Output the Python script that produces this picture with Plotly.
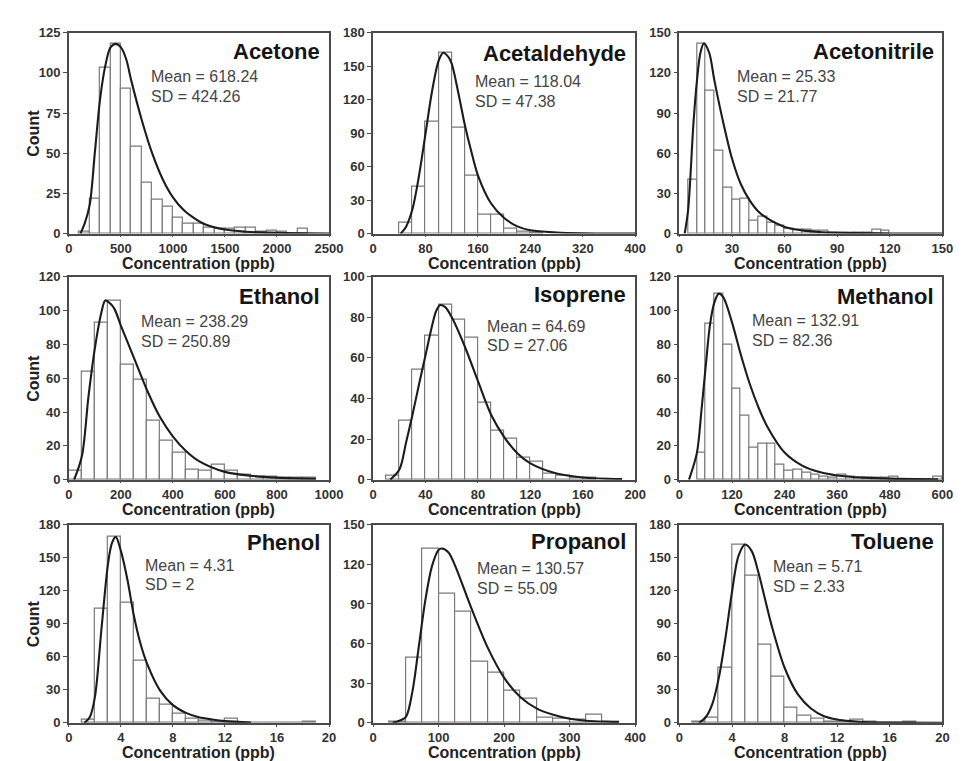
import plotly.graph_objects as go

# ---------------- data ----------------
names = ["Acetone", "Acetaldehyde", "Acetonitrile",
         "Ethanol", "Isoprene", "Methanol",
         "Phenol", "Propanol", "Toluene"]
means = ["618.24", "118.04", "25.33", "238.29", "64.69", "132.91", "4.31", "130.57", "5.71"]
sds = ["424.26", "47.38", "21.77", "250.89", "27.06", "82.36", "2", "55.09", "2.33"]

bin_widths = [100, 20, 5, 50, 10, 20, 1, 25, 1]

acetone_bins = [100, 200, 300, 400, 500, 600, 700, 800, 900, 1000, 1100, 1200, 1300,
                1400, 1500, 1600, 1700, 1800, 1900, 2000, 2100, 2200]
acetone_counts = [1, 22, 103, 118, 90, 54, 32, 21, 17, 10, 6, 6, 4, 3, 3, 4, 4, 1, 2, 1, 0, 3]
acetone_fit_x = [110, 150, 200, 250, 300, 350, 400, 450, 500, 550, 600, 700, 800, 900,
                 1000, 1100, 1200, 1300, 1500, 1700, 2000, 2500]
acetone_fit_y = [0, 6, 18, 51, 84, 104.5, 115.8, 118, 115.8, 108.6, 95, 70.7, 50, 34,
                 22.5, 14.8, 9.8, 6, 2.5, 1.2, 0.5, 0.1]

acetaldehyde_bins = [40, 60, 80, 100, 120, 140, 160, 180, 200, 220, 240]
acetaldehyde_counts = [10, 42, 100, 162, 95, 52, 17, 17, 4, 2, 1]
acetaldehyde_fit_x = [42, 50, 60, 70, 80, 90, 100, 107, 115, 120, 130, 140, 150, 160,
                      180, 200, 220, 240, 280, 320, 400]
acetaldehyde_fit_y = [0, 6, 22, 52, 90, 128, 155, 162, 158, 152, 126, 97, 73, 52,
                      27, 14, 6.5, 3, 1, 0.3, 0]

acetonitrile_bins = [5, 10, 15, 20, 25, 30, 35, 40, 45, 50, 55, 60, 65, 70, 75, 80, 85,
                     90, 95, 100, 105, 110, 115]
acetonitrile_counts = [40, 142, 107, 62, 34, 25, 26, 10, 13, 8, 6, 4, 3, 3, 2, 2, 1,
                       1, 1, 1, 1, 3, 2]
acetonitrile_fit_x = [3, 5, 8, 10, 12, 14, 17, 20, 25, 30, 35, 40, 45, 50, 60, 70, 80,
                      100, 120, 150]
acetonitrile_fit_y = [0, 18, 82, 114, 135, 142, 135, 114, 83, 56, 37, 25, 16.5, 11.5,
                      5, 2.4, 1.2, 0.4, 0.1, 0]

ethanol_bins = [0, 50, 100, 150, 200, 250, 300, 350, 400, 450, 500, 550, 600, 650, 700,
                750, 800, 850, 900]
ethanol_counts = [5, 64, 93, 106, 68, 59, 35, 23, 16, 6, 5, 9, 5, 3, 2, 2, 1, 1, 1]
ethanol_fit_x = [20, 50, 75, 100, 125, 140, 160, 175, 200, 250, 300, 350, 400, 450, 500,
                 600, 700, 800, 950]
ethanol_fit_y = [0, 14, 49, 78, 99, 106, 104, 101, 91, 72, 53, 37, 25.5, 17, 11,
                 4.6, 2.3, 1.2, 0.5]

isoprene_bins = [10, 20, 30, 40, 50, 60, 70, 80, 90, 100, 110, 120, 130, 140, 150, 160]
isoprene_counts = [2, 29, 54, 71, 86, 79, 70, 38, 24, 20, 11, 9, 3, 2, 1, 1]
isoprene_fit_x = [13, 20, 25, 30, 35, 40, 45, 48, 51, 55, 60, 70, 80, 90, 100, 110, 120,
                  140, 160, 190]
isoprene_fit_y = [0, 5, 18, 32, 47, 61.5, 76, 83, 86, 85, 80, 65.5, 48.5, 32, 21, 13, 8,
                  3, 1.1, 0.3]

methanol_bins = [40, 60, 80, 100, 120, 140, 160, 180, 200, 220, 240, 260, 280, 300, 320,
                 340, 360, 380, 400, 420, 440, 460, 480, 500, 520, 540, 560, 580]
methanol_counts = [16, 92, 110, 80, 54, 38, 19, 21, 21, 9, 5, 6, 4, 3, 2, 1, 3, 2, 1, 1,
                   1, 1, 2, 0, 0, 0, 0, 2]
methanol_fit_x = [22, 40, 50, 60, 70, 80, 90, 100, 120, 140, 160, 180, 200, 240, 280, 320,
                  360, 420, 480, 590]
methanol_fit_y = [0, 16, 40, 67, 92, 105, 110, 108, 93, 74, 57, 43, 31.6, 16, 8.3, 4.5,
                  2.5, 1.2, 0.6, 0.2]

phenol_bins = [1, 2, 3, 4, 5, 6, 7, 8, 9, 10, 11, 12, 13, 14, 15, 16, 17, 18]
phenol_counts = [3, 104, 169, 109, 56, 22, 16, 8, 4, 2, 1, 4, 0, 0, 0, 0, 0, 1]
phenol_fit_x = [1.2, 1.6, 2, 2.5, 3, 3.3, 3.6, 4, 4.5, 5, 5.5, 6, 7, 8, 9, 10, 11, 12, 14]
phenol_fit_y = [0, 5, 23.6, 85, 144, 163, 169, 156, 130, 97, 72, 54, 29.5, 16, 9, 5, 3,
                1.5, 0.3]

propanol_bins = [25, 50, 75, 100, 125, 150, 175, 200, 225, 250, 275, 300, 325, 350]
propanol_counts = [1, 49, 132, 98, 84, 46, 38, 24, 18, 4, 3, 2, 6, 1]
propanol_fit_x = [30, 40, 50, 60, 70, 80, 90, 100, 105, 115, 125, 150, 175, 200, 225, 250,
                  275, 300, 325, 375]
propanol_fit_y = [0, 1.5, 4.5, 24, 59, 94, 119, 131, 132, 129, 119, 86.6, 56.7, 34, 19.4,
                  10.7, 6, 3, 1.5, 0.5]

toluene_bins = [1, 2, 3, 4, 5, 6, 7, 8, 9, 10, 11, 12, 13, 14, 15, 16, 17]
toluene_counts = [1, 5, 50, 162, 134, 71, 42, 14, 6, 4, 1, 1, 3, 1, 0, 0, 1]
toluene_fit_x = [1.5, 2, 2.5, 3, 3.5, 4, 4.5, 5, 5.5, 6, 6.5, 7, 8, 9, 10, 11, 12, 13, 14,
                 16, 20]
toluene_fit_y = [0, 5, 17, 41, 77, 119, 152, 162, 156, 137, 113, 89, 50, 26, 13, 6, 3,
                 1.5, 0.7, 0.2, 0]

bins = [acetone_bins, acetaldehyde_bins, acetonitrile_bins, ethanol_bins, isoprene_bins,
        methanol_bins, phenol_bins, propanol_bins, toluene_bins]
counts = [acetone_counts, acetaldehyde_counts, acetonitrile_counts, ethanol_counts,
          isoprene_counts, methanol_counts, phenol_counts, propanol_counts, toluene_counts]
fit_x = [acetone_fit_x, acetaldehyde_fit_x, acetonitrile_fit_x, ethanol_fit_x,
         isoprene_fit_x, methanol_fit_x, phenol_fit_x, propanol_fit_x, toluene_fit_x]
fit_y = [acetone_fit_y, acetaldehyde_fit_y, acetonitrile_fit_y, ethanol_fit_y,
         isoprene_fit_y, methanol_fit_y, phenol_fit_y, propanol_fit_y, toluene_fit_y]

x_max = [2500, 400, 150, 1000, 200, 600, 20, 400, 20]
x_dtick = [500, 80, 30, 200, 40, 120, 4, 100, 4]
y_max = [125, 180, 150, 120, 100, 120, 180, 150, 180]
y_dtick = [25, 30, 30, 20, 20, 20, 30, 30, 30]

# ---------------- layout (pixel geometry) ----------------
W, H = 971, 761
cols_px = [(58, 323), (368, 635), (680, 948)]
rows_px = [(18, 223), (267, 474), (520, 722)]
title_y_px = [37, 39, 37, 287, 285, 287, 538, 537, 537]
stats_px = [(140, 63, 83), (470, 68, 88), (737, 63, 83),
            (129, 313, 333), (482, 318, 337), (752, 312, 332),
            (133, 562, 581), (472, 565, 585), (773, 563, 583)]

def px(x):
    return x / W

def py(y):
    return 1 - y / H

FONT = "Liberation Sans, Arial, sans-serif"
fig = go.Figure()
layout = dict(width=W, height=H, margin=dict(l=0, r=0, t=0, b=0),
              paper_bgcolor="white", plot_bgcolor="white", showlegend=False,
              bargap=0, font=dict(family=FONT, color="#222"))
annotations = []

for i in range(9):
    r, c = divmod(i, 3)
    k = "" if i == 0 else str(i + 1)
    xa, ya = "x" + k, "y" + k
    fig.add_trace(go.Bar(x=bins[i], y=counts[i], width=bin_widths[i], offset=0,
                         marker=dict(color="white", line=dict(color="#7a7a7a", width=1.2)),
                         xaxis=xa, yaxis=ya, hoverinfo="skip"))
    fig.add_trace(go.Scatter(x=fit_x[i], y=fit_y[i], mode="lines",
                             line=dict(color="#1c1c1c", width=2.1, shape="spline", smoothing=0.9),
                             xaxis=xa, yaxis=ya, hoverinfo="skip"))
    x0, x1 = cols_px[c]
    y0, y1 = rows_px[r]
    axis_common = dict(showline=True, mirror=True, linecolor="#4a4a4a", linewidth=1.6,
                       showgrid=False, zeroline=False, ticks="outside", tickcolor="#4a4a4a",
                       tickfont=dict(family=FONT, size=13, color="#333", weight="bold"))
    layout["xaxis" + k] = dict(axis_common, domain=[px(x0), px(x1)], range=[0, x_max[i]],
                               dtick=x_dtick[i], tick0=0, ticklen=2, anchor=ya)
    layout["yaxis" + k] = dict(axis_common, domain=[py(y1), py(y0)], range=[0, y_max[i]],
                               dtick=y_dtick[i], tick0=0, ticklen=4, anchor=xa)
    # panel title
    annotations.append(dict(text="<b>%s</b>" % names[i], x=px(x1 - 7), y=py(title_y_px[i]),
                            xref="paper", yref="paper", xanchor="right", yanchor="middle",
                            showarrow=False, font=dict(family=FONT, size=22, color="#151515")))
    sx, sy1, sy2 = stats_px[i]
    annotations.append(dict(text="Mean = " + means[i], x=px(sx), y=py(sy1), xref="paper",
                            yref="paper", xanchor="left", yanchor="middle", showarrow=False,
                            font=dict(family=FONT, size=16, color="#454545")))
    annotations.append(dict(text="SD = " + sds[i], x=px(sx), y=py(sy2), xref="paper",
                            yref="paper", xanchor="left", yanchor="middle", showarrow=False,
                            font=dict(family=FONT, size=16, color="#454545")))
    # x axis title
    annotations.append(dict(text="<b>Concentration (ppb)</b>", x=px((x0 + x1) / 2),
                            y=py(y1 + 30), xref="paper", yref="paper", xanchor="center",
                            yanchor="middle", showarrow=False,
                            font=dict(family=FONT, size=16, color="#222")))
    if c == 0:
        annotations.append(dict(text="<b>Count</b>", x=px(22), y=py((y0 + y1) / 2),
                                xref="paper", yref="paper", xanchor="center",
                                yanchor="middle", textangle=-90, showarrow=False,
                                font=dict(family=FONT, size=16, color="#222")))

layout["annotations"] = annotations
fig.update_layout(**layout)
fig.write_html("out.html")
